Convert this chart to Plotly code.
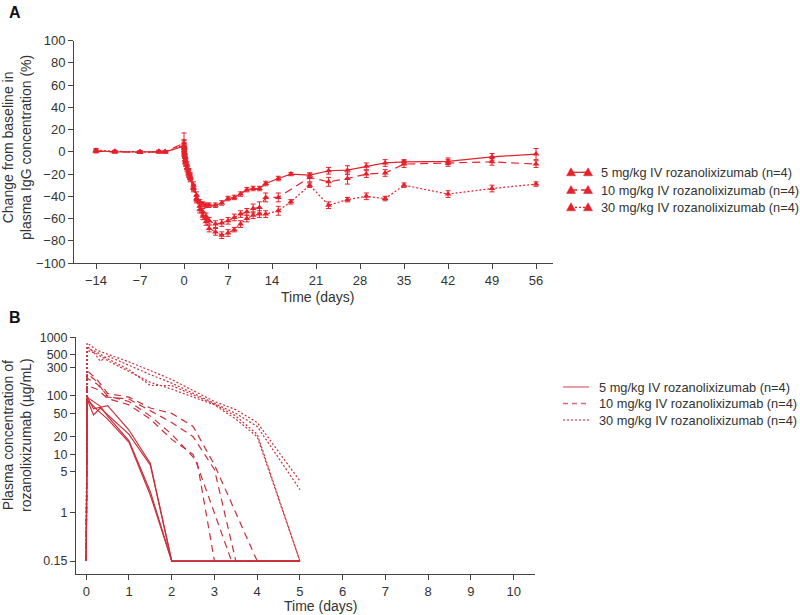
import plotly.graph_objects as go

# ---------------- Panel A data: % change from baseline in IgG ----------------
days_5 = [-14, -11, -7, -4, -3, 0, 0.04, 0.08, 0.17, 0.25, 0.5, 0.75, 1, 1.5, 2, 2.5, 3, 3.5, 4,
          5, 6, 7, 8, 9, 10, 11, 12, 13, 15, 17, 20, 23, 26, 29, 32, 35, 42, 49, 56]
chg_5 = [1, 0, 0, 0, 0, 5, 3, -2, -5, -8, -12, -18, -22, -30, -39, -45, -47, -48, -48,
         -48, -46, -42, -41, -38, -34, -33, -33, -28.5, -24, -20, -21, -17, -16.5, -13, -10, -9, -8.5, -4.5, -2]
err_5 = [2, 1, 1, 1, 1, 5, 3, 3, 3, 3, 3, 3, 3, 3, 3, 2, 2, 2, 2,
         2, 2, 2, 2, 2, 2, 2, 2, 2, 2, 1.5, 2, 3, 4, 3, 3, 2, 3, 3, 5]

days_10 = [-14, -11, -7, -4, -3, 0, 0.04, 0.08, 0.17, 0.25, 0.5, 0.75, 1, 1.5, 2, 2.5, 3, 3.5, 4,
           5, 6, 7, 8, 9, 10, 11, 12, 13, 15, 20, 23, 26, 29, 32, 35, 42, 49, 56]
chg_10 = [0.5, 0, -0.5, 0, 0, 8, 4, -1, -5, -9, -14, -19, -23, -32, -42, -49, -54, -58, -62,
          -65, -64, -62, -59, -56, -54, -51, -50, -41, -41, -23, -27, -24, -20, -19, -11, -10, -9, -11]
err_10 = [1, 1, 1, 1, 1, 9, 4, 3, 3, 3, 3, 3, 3, 3, 3, 3, 3, 3, 3,
          3, 3, 3, 3, 3, 3, 4, 5, 4, 4, 4, 4, 5, 3, 3, 3, 3, 3, 3]

days_30 = [-14, -11, -7, -4, -3, 0, 0.04, 0.08, 0.17, 0.25, 0.5, 0.75, 1, 1.5, 2, 2.5, 3, 3.5, 4,
           5, 6, 7, 8, 9, 10, 11, 12, 13, 15, 17, 20, 23, 26, 29, 32, 35, 42, 49, 56]
chg_30 = [1.5, 0.5, 0, 0.5, 0, 6, 1, -3, -7, -10, -15, -20, -24, -33, -43, -52, -58, -63, -69,
          -72, -75, -73, -70, -65, -60, -57, -56, -56, -53, -45, -30, -48, -43, -40, -42, -30, -38, -33, -29]
err_30 = [1, 1, 1, 1, 1, 5, 3, 3, 3, 3, 3, 3, 3, 3, 3, 3, 3, 3, 3,
          3, 3, 3, 2, 3, 3, 3, 3, 3, 4, 2, 2, 3, 2, 3, 2, 2, 3, 3, 2]

labels = ["5 mg/kg IV rozanolixizumab (n=4)",
          "10 mg/kg IV rozanolixizumab (n=4)",
          "30 mg/kg IV rozanolixizumab (n=4)"]

x_ticks_a = [-14, -7, 0, 7, 14, 21, 28, 35, 42, 49, 56]
y_ticks_a = [-100, -80, -60, -40, -20, 0, 20, 40, 60, 80, 100]

# ---------------- Panel B data: individual plasma concentrations ----------------
t5 = [[0, 0.02, 0.17, 0.5, 1, 1.5, 2, 5],
      [0, 0.02, 0.17, 0.33, 1, 1.5, 2, 5],
      [0, 0.02, 0.33, 0.5, 1, 1.5, 2, 5],
      [0, 0.02, 0.25, 0.5, 1, 1.5, 2, 5]]
c5 = [[0.15, 97, 60, 68, 26, 7.0, 0.15, 0.15],
      [0.15, 88, 47, 62, 22, 6.5, 0.15, 0.15],
      [0.15, 95, 66, 45, 17, 2.3, 0.15, 0.15],
      [0.15, 85, 58, 40, 16, 2.0, 0.15, 0.15]]

t10 = [[0, 0.02, 0.25, 0.5, 1, 1.5, 2, 2.5, 3, 4, 5],
       [0, 0.02, 0.25, 0.5, 1, 1.5, 2, 2.5, 3, 3.5, 5],
       [0, 0.02, 0.25, 0.5, 1, 1.5, 2, 2.5, 2.6, 3, 5],
       [0, 0.02, 0.25, 0.5, 1, 1.5, 2, 2.5, 2.6, 3.4, 5]]
c10 = [[0.15, 270, 190, 110, 95, 62, 50, 30, 6.6, 0.15, 0.15],
       [0.15, 240, 175, 95, 88, 55, 35, 20, 5.5, 0.15, 0.15],
       [0.15, 200, 160, 100, 80, 45, 22, 9, 7, 0.15, 0.15],
       [0.15, 150, 130, 90, 70, 40, 18, 10, 6.5, 0.15, 0.15]]

t30 = [[0, 0.02, 0.25, 0.5, 1, 1.5, 2, 3, 3.5, 4, 5],
       [0, 0.02, 0.17, 0.33, 0.5, 1, 1.5, 2, 3, 3.5, 4, 5],
       [0, 0.02, 0.25, 0.5, 1, 1.5, 2, 3, 3.5, 4, 5],
       [0, 0.02, 0.25, 0.5, 1, 1.5, 2, 3, 3.5, 4, 5]]
c30 = [[0.15, 800, 600, 520, 380, 270, 190, 80, 58, 35, 3.5],
       [0.15, 700, 560, 390, 480, 330, 230, 165, 75, 50, 30, 2.5],
       [0.15, 650, 560, 430, 280, 150, 150, 72, 45, 22, 0.15],
       [0.15, 600, 520, 400, 260, 170, 130, 70, 40, 20, 0.15]]

x_ticks_b = [0, 1, 2, 3, 4, 5, 6, 7, 8, 9, 10]
y_ticks_b = [0.15, 1, 5, 10, 20, 50, 100, 300, 500, 1000]
y_ticktext_b = ["0.15", "1", "5", "10", "20", "50", "100", "300", "500", "1000"]

# ---------------- styles ----------------
RED_A = "#e4222c"
RED_B = "#c9303b"
RED_LEG_B = "#dd6a7a"
AXC = "#444444"
TXT = "#333333"
W, H = 800, 615
LEG_FONT = 12.8


def px(x):
    """reference pixel x -> paper fraction"""
    return x / W


def py(y):
    """reference pixel y -> paper fraction"""
    return 1 - y / H


fig = go.Figure()

dash_a = ["solid", "8px,5px", "2px,2px"]
for d, v, e, lab, ds in zip([days_5, days_10, days_30], [chg_5, chg_10, chg_30],
                            [err_5, err_10, err_30], labels, dash_a):
    fig.add_trace(go.Scatter(
        x=d, y=v, mode="lines+markers", name=lab, showlegend=False,
        line=dict(color=RED_A, width=1.2, dash=ds),
        marker=dict(symbol="triangle-up", size=6, color=RED_A),
        error_y=dict(type="data", array=e, visible=True, color=RED_A, thickness=1, width=2.5),
        xaxis="x", yaxis="y"))

dash_b = ["solid", "7px,5px", "2px,2px"]
for ts, cs, ds, lab in zip([t5, t10, t30], [c5, c10, c30], dash_b, labels):
    for t, c in zip(ts, cs):
        fig.add_trace(go.Scatter(
            x=t, y=c, mode="lines", name=lab, showlegend=False,
            line=dict(color=RED_B, width=1.2, dash=ds),
            xaxis="x2", yaxis="y2"))

axis_common = dict(showline=True, linecolor=AXC, linewidth=1, ticks="outside",
                   ticklen=5, tickcolor=AXC, tickwidth=1, showgrid=False,
                   zeroline=False, tickfont=dict(size=13, color=TXT), automargin=False)

# ---------- legends drawn as key samples + text ----------
shapes = []
annotations = []
legA_rows = [172.3, 190, 207.3]
dash_shape_a = ["solid", "6px,4px", "2px,2px"]
for yrow, lab, ds in zip(legA_rows, labels, dash_shape_a):
    shapes.append(dict(type="line", xref="paper", yref="paper",
                       x0=px(571), x1=px(588), y0=py(yrow), y1=py(yrow),
                       line=dict(color=RED_A, width=1.3, dash=ds)))
    for cx in (571, 588):
        path = "M {:.5f},{:.5f} L {:.5f},{:.5f} L {:.5f},{:.5f} Z".format(
            px(cx - 4.5), py(yrow + 3.5), px(cx + 4.5), py(yrow + 3.5), px(cx), py(yrow - 4.5))
        shapes.append(dict(type="path", xref="paper", yref="paper", path=path,
                           fillcolor=RED_A, line=dict(color=RED_A, width=0.5)))
    annotations.append(dict(text=lab, x=px(599), y=py(yrow), xref="paper", yref="paper",
                            xanchor="left", yanchor="middle", showarrow=False,
                            font=dict(size=LEG_FONT, color=TXT)))

legB_rows = [387, 403.5, 420]
dash_shape_b = ["solid", "5px,4px", "2px,2px"]
for yrow, lab, ds in zip(legB_rows, labels, dash_shape_b):
    shapes.append(dict(type="line", xref="paper", yref="paper",
                       x0=px(563), x1=px(589), y0=py(yrow), y1=py(yrow),
                       line=dict(color=RED_LEG_B, width=1.3, dash=ds)))
    annotations.append(dict(text=lab, x=px(597), y=py(yrow), xref="paper", yref="paper",
                            xanchor="left", yanchor="middle", showarrow=False,
                            font=dict(size=LEG_FONT, color=TXT)))

annotations += [
    dict(text="<b>A</b>", x=px(7), y=py(12), xref="paper", yref="paper",
         xanchor="left", yanchor="middle", showarrow=False, font=dict(size=16, color="#111")),
    dict(text="<b>B</b>", x=px(7), y=py(317), xref="paper", yref="paper",
         xanchor="left", yanchor="middle", showarrow=False, font=dict(size=16, color="#111")),
    dict(text="Change from baseline in<br>plasma IgG concentration (%)", textangle=-90,
         x=px(17), y=py(148), xref="paper", yref="paper", xanchor="center", yanchor="middle",
         showarrow=False, font=dict(size=14, color=TXT)),
    dict(text="Plasma concentration of<br>rozanolixizumab (µg/mL)", textangle=-90,
         x=px(17), y=py(435), xref="paper", yref="paper", xanchor="center", yanchor="middle",
         showarrow=False, font=dict(size=14, color=TXT)),
    dict(text="Time (days)", x=px(317), y=py(297), xref="paper", yref="paper",
         xanchor="center", yanchor="middle", showarrow=False, font=dict(size=14, color=TXT)),
    dict(text="Time (days)", x=px(320), y=py(606), xref="paper", yref="paper",
         xanchor="center", yanchor="middle", showarrow=False, font=dict(size=14, color=TXT)),
]

fig.update_layout(
    width=W, height=H,
    margin=dict(l=0, r=0, t=0, b=0),
    paper_bgcolor="white", plot_bgcolor="white",
    font=dict(family="Liberation Sans, Arial, sans-serif", size=13, color=TXT),
    showlegend=False,
    xaxis=dict(domain=[px(74), px(553)], range=[-17.5, 58.7], tickvals=x_ticks_a,
               anchor="y", **axis_common),
    yaxis=dict(domain=[py(263), py(40.7)], range=[-100, 100], tickvals=y_ticks_a,
               anchor="x", **axis_common),
    xaxis2=dict(domain=[px(76), px(535)], range=[-0.24, 10.5], tickvals=x_ticks_b,
                anchor="y2", **axis_common),
    yaxis2=dict(domain=[py(574), py(337.3)], type="log", range=[-1.045, 3],
                tickvals=y_ticks_b, ticktext=y_ticktext_b, anchor="x2", **axis_common),
    shapes=shapes,
    annotations=annotations,
)
fig.update_yaxes(tickfont=dict(size=12.5, color=TXT), selector=dict(type="log"))

# remove the browser's default page margin so the 800x615 figure fills the window exactly
fig.write_html("out.html",
               config={"displayModeBar": False},
               post_script="document.body.style.margin='0px';"
                           "document.body.style.overflow='hidden';")
